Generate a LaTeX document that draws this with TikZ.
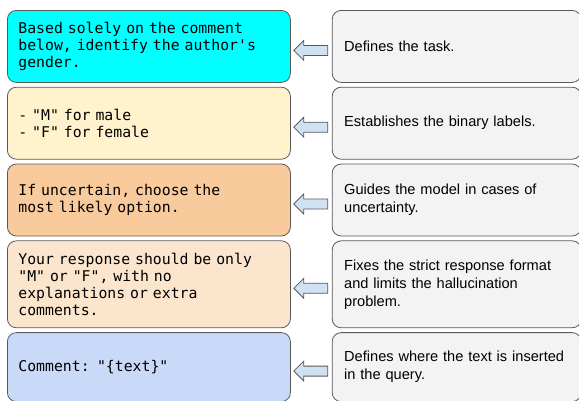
\documentclass[tikz,border=0pt]{standalone}
\usepackage{fontspec}
\setmainfont{Liberation Sans}
\setmonofont{DejaVu Sans Mono}
\usepackage{tikz}
\usetikzlibrary{calc}
\usetikzlibrary{positioning}

\definecolor{edgegray}{HTML}{595959}
\definecolor{notegray}{HTML}{F3F3F3}
\definecolor{hintblue}{HTML}{CFE2F3}
\definecolor{taskcyan}{HTML}{00FFFF}
\definecolor{labelcream}{HTML}{FFF2CC}
\definecolor{doubtorange}{HTML}{F9CB9C}
\definecolor{formatpeach}{HTML}{FCE5CD}
\definecolor{queryblue}{HTML}{C9DAF8}

% block arrow from the note (#1) back to its prompt line (#2)
\newcommand{\hintarrow}[2]{%
  \path ($(#1.west)+(-4,4)$) coordinate (hintTail) ($(#2.east)+(3,0)$) coordinate (hintTip);
  \draw[hint] let \p1=(hintTail), \p2=(hintTip) in
    (\x1,\y1+5pt) -- (\x2+10pt,\y1+5pt) -- (\x2+10pt,\y1+10pt) -- (\x2,\y1)
    -- (\x2+10pt,\y1-10pt) -- (\x2+10pt,\y1-5pt) -- (\x1,\y1-5pt) -- cycle;}

\begin{document}
\begin{tikzpicture}[x=1pt,y=-1pt,node distance=4pt and 41pt,
  prompt/.style={draw=edgegray,line width=0.8pt,rounded corners=9pt,minimum width=283pt,
    text width=261pt,inner xsep=11pt,inner ysep=2pt,align=left,
    font=\ttfamily\fontsize{14.8}{17}\selectfont},
  note/.style={draw=edgegray,line width=0.8pt,fill=notegray,rounded corners=9pt,minimum width=249pt,
    text width=225pt,inner xsep=12pt,inner ysep=2pt,align=left,
    font=\fontsize{14.6}{18}\selectfont},
  hint/.style={draw=edgegray,fill=hintblue,line width=0.8pt,line join=miter}]
  \useasboundingbox (0,0) rectangle (579,400);

  % prompt lines
  \node[prompt,fill=taskcyan,minimum height=72pt,anchor=north west] (task) at (7,10)
    {Based solely on the comment\\below, identify the author's\\gender.};
  \node[prompt,fill=labelcream,minimum height=72pt,below=of task] (labels)
    {- "M" for male\\- "F" for female};
  \node[prompt,fill=doubtorange,minimum height=72pt,below=of labels] (doubt)
    {If uncertain, choose the\\most likely option.};
  \node[prompt,fill=formatpeach,minimum height=87pt,below=of doubt] (format)
    {Your response should be only\\"M" or "F", with no\\explanations or extra\\comments.};
  \node[prompt,fill=queryblue,minimum height=69pt,below=of format] (query)
    {Comment: "\{text\}"};

  % what each line does
  \node[note,minimum height=72pt,right=of task] (taskNote) {Defines the task.};
  \node[note,minimum height=72pt,right=of labels] (labelsNote) {Establishes the binary labels.};
  \node[note,minimum height=72pt,right=of doubt] (doubtNote)
    {Guides the model in cases of\\uncertainty.};
  \node[note,minimum height=87pt,right=of format] (formatNote)
    {Fixes the strict response format\\and limits the hallucination\\problem.};
  \node[note,minimum height=69pt,right=of query] (queryNote)
    {Defines where the text is inserted\\in the query.};

  \foreach \row in {task,labels,doubt,format,query}
    \hintarrow{\row Note}{\row};
\end{tikzpicture}
\end{document}
